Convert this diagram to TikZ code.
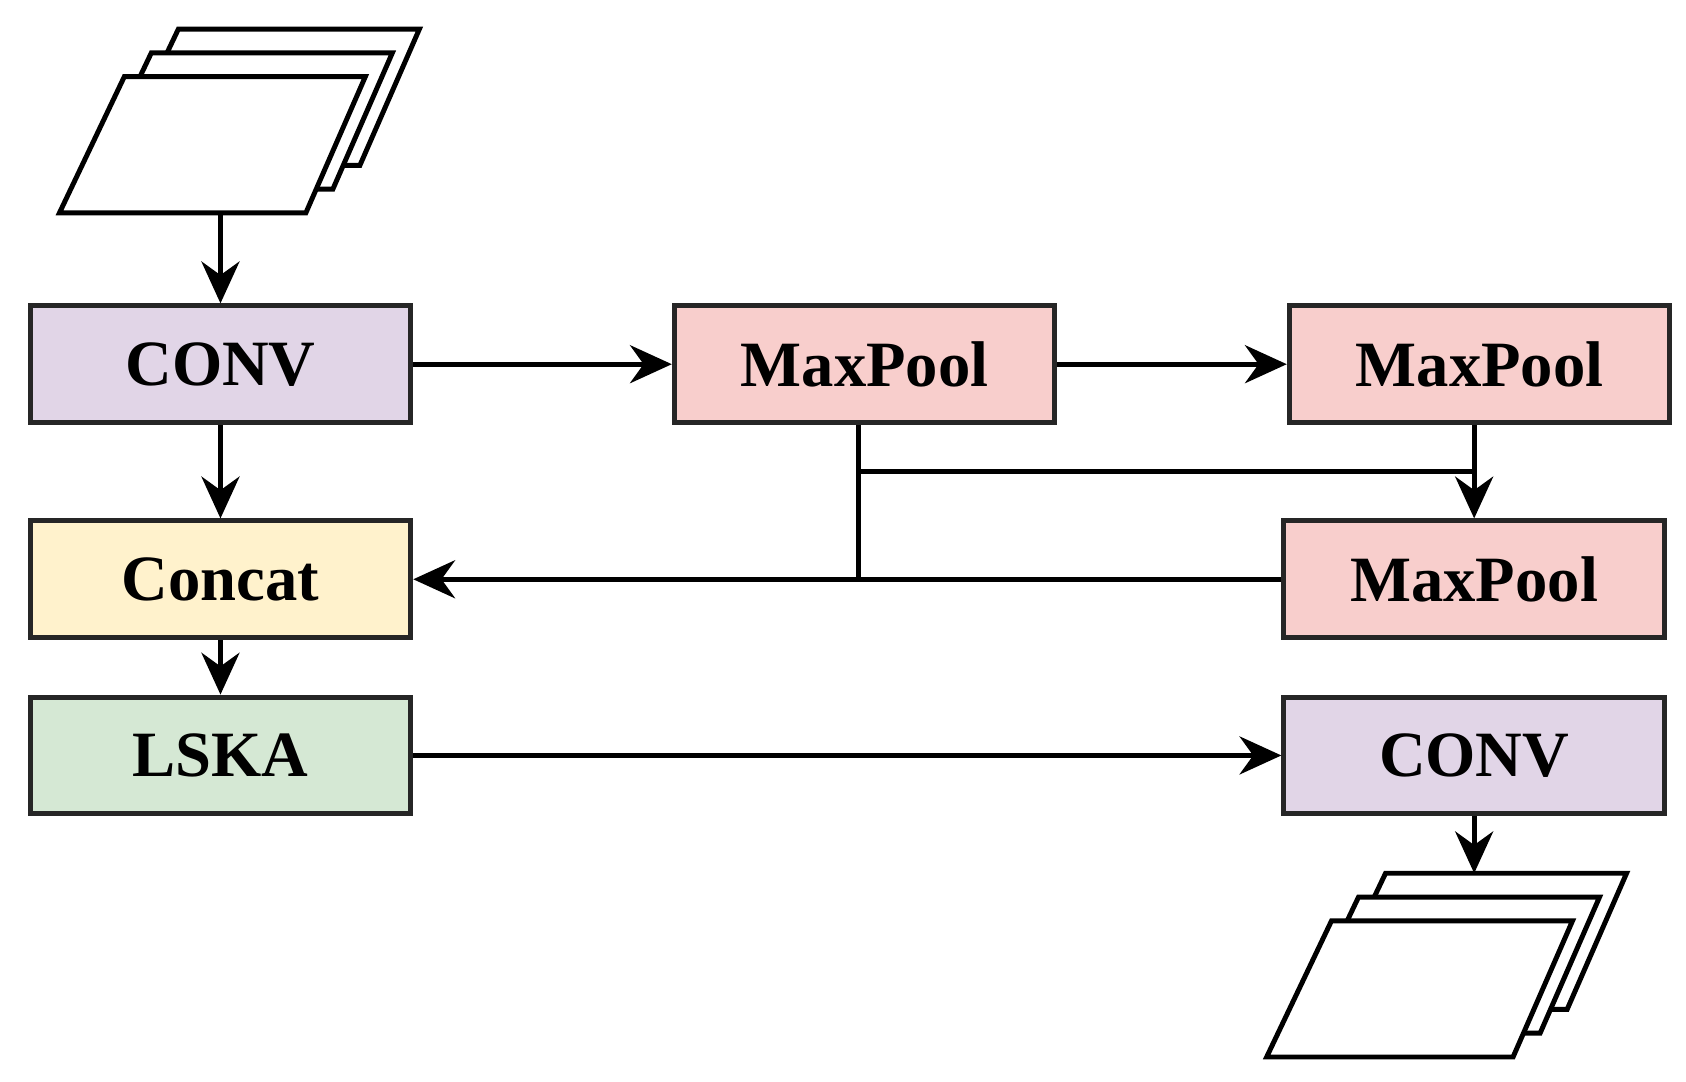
\documentclass[tikz,border=0pt]{standalone}
\usepackage{fontspec}
\setmainfont{Liberation Serif}
\usetikzlibrary{arrows.meta}
\definecolor{cv}{HTML}{E1D5E7}
\definecolor{mp}{HTML}{F8CECC}
\definecolor{cc}{HTML}{FFF2CC}
\definecolor{ls}{HTML}{D5E8D4}
\tikzset{
  blk/.style={draw=black!85, line width=1.3pt, minimum width=3.52cm, minimum height=1.08cm,
    inner sep=0pt, font=\fontsize{17}{20}\selectfont\bfseries},
  link/.style={line width=1.3pt, -{Stealth[length=11pt,width=10pt]}},
  sheet/.style={draw=black, fill=white, line width=1.3pt, line join=miter}
}
\newcommand{\stack}[2]{%
  \foreach \k in {2,1,0}
    \draw[sheet, shift={(#1+25*\k,#2-22*\k)}] (0,0) -- (228,0) -- (283,-126) -- (60,-126) -- cycle;}
\begin{document}
\begin{tikzpicture}[x=0.01cm, y=-0.01cm]
			\useasboundingbox (0,0) rectangle (1560,1001);

			\stack{55}{197}
			\stack{1172}{978}
			\coordinate (inbot) at (204,197);
			\coordinate (outtop) at (1364,808);

			\node[blk, fill=cv] (conva) at (204,337) {CONV};
			\node[blk, fill=mp] (poola) at (800,337) {MaxPool};
			\node[blk, fill=mp] (poolb) at (1369,337) {MaxPool};
			\node[blk, fill=cc] (concat) at (204,536) {Concat};
			\node[blk, fill=mp] (poolc) at (1364,536) {MaxPool};
			\node[blk, fill=ls] (lska) at (204,699) {LSKA};
			\node[blk, fill=cv] (convb) at (1364,699) {CONV};

			\draw[link] (inbot) -- (conva);
			\draw[link] (conva) -- (poola);
			\draw[link] (poola) -- (poolb);
			\draw[link] (poolb.south -| poolc) -- (poolc);
			\draw[line width=1.3pt] (poola.south -| 794,0) -- (794,536);
			\draw[line width=1.3pt] (794,436) -- (1364,436);
			\draw[link] (poolc) -- (concat);
			\draw[link] (conva) -- (concat);
			\draw[link] (concat) -- (lska);
			\draw[link] (lska) -- (convb);
			\draw[link] (convb) -- (outtop);
		\end{tikzpicture}
\end{document}
